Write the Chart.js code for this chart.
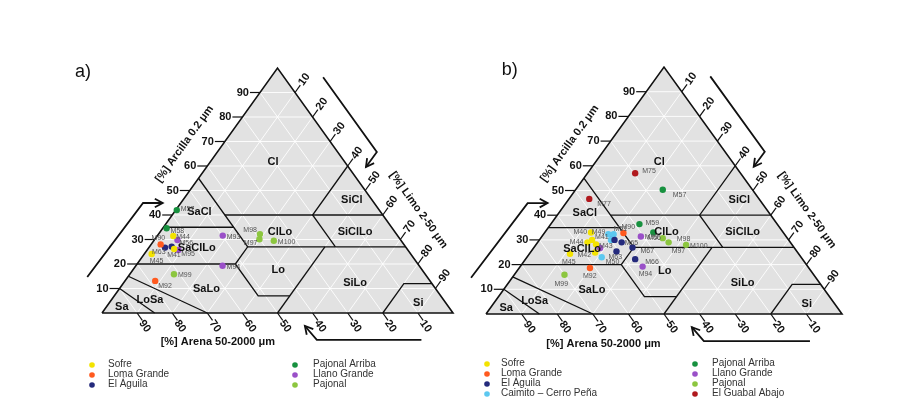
<!DOCTYPE html>
<html>
<head>
<meta charset="utf-8">
<script src="https://cdn.jsdelivr.net/npm/chart.js@4.4.1/dist/chart.umd.min.js"></script>
<style>
  html, body { margin: 0; padding: 0; background: #fff; }
  #wrap { position: relative; width: 902px; height: 402px; }
  canvas { position: absolute; left: 0; top: 0; }
</style>
</head>
<body>
<div id="wrap">
  <canvas id="chartA" width="902" height="402"></canvas>
  <canvas id="chartB" width="902" height="402"></canvas>
</div>
<script>
// ---- data ----
const tickValues = [10, 20, 30, 40, 50, 60, 70, 80, 90];

// USDA texture classes (label position as clay %, sand %)
const classNames = ["Cl", "SiCl", "SaCl", "ClLo", "SiClLo", "SaClLo", "Lo", "SiLo", "SaLo", "LoSa", "Sa", "Si"];
const classClay  = [61.6, 46.1, 41.1, 33.2, 33.2, 26.4, 17.6, 12.4, 9.7, 5.3, 2.3, 4.0];
const classSand  = [20.5, 5.8, 51.7, 32.7, 11.3, 59.8, 41.0, 21.7, 65.4, 83.7, 93.2, 7.9];

// class boundaries, each one a polyline in clay % / sand %
const boundaryClay = [[10, 0], [15, 0], [20, 20, 7, 7], [0, 27], [35, 35], [55, 27, 20], [27, 27], [40, 40], [60, 40, 27], [12, 12, 0]];
const boundarySand = [[90, 85], [85, 70], [80, 52, 52, 43], [50, 23], [65, 45], [45, 45, 52], [45, 0], [45, 0], [0, 20, 20], [0, 8, 20]];

const groupNames  = ["Sofre", "Loma Grande", "El Águila", "Caimito – Cerro Peña", "Pajonal Arriba", "Llano Grande", "Pajonal", "El Guabal Abajo"];
const groupColors = ["#f3e300", "#ff5a1f", "#242a7c", "#5cc8f0", "#17913f", "#9a50c8", "#8cc63f", "#b0191e"];

// panel a)
const aGroup = ["Sofre", "Sofre", "Sofre", "Loma Grande", "Loma Grande", "El Águila", "El Águila", "Pajonal Arriba", "Pajonal Arriba",
                "Llano Grande", "Llano Grande", "Llano Grande", "Llano Grande", "Pajonal", "Pajonal", "Pajonal", "Pajonal"];
const aLabel = ["M44", "M41", "M45", "M90", "M92", "M63", "", "M57", "M58", "M56", "M95", "M93", "M94", "M98", "M97", "M100", "M99"];
const aClay  = [31.4, 26.1, 24.1, 28.0, 13.1, 26.7, 27.1, 42.0, 34.6, 29.8, 25.7, 31.6, 19.3, 32.2, 30.1, 29.5, 15.8];
const aSand  = [64.0, 66.4, 73.8, 69.3, 78.3, 68.7, 66.6, 57.7, 64.3, 63.6, 65.4, 49.8, 56.0, 38.9, 40.1, 36.3, 71.6];

// panel b)
const bGroup = ["Sofre", "Sofre", "Sofre", "Sofre", "Sofre", "Sofre",
                "Caimito – Cerro Peña", "Caimito – Cerro Peña", "Caimito – Cerro Peña", "Caimito – Cerro Peña",
                "Loma Grande", "Loma Grande",
                "El Águila", "El Águila", "El Águila", "El Águila", "El Águila",
                "Llano Grande", "Llano Grande", "Llano Grande", "Llano Grande",
                "Pajonal Arriba", "Pajonal Arriba", "Pajonal Arriba",
                "Pajonal", "Pajonal", "Pajonal", "Pajonal",
                "El Guabal Abajo", "El Guabal Abajo"];
const bLabel = ["M40", "M41", "M44", "M43", "M45", "M42", "M49", "M51", "", "M50", "M90", "M92", "M65", "M63", "M67", "M66", "",
                "", "", "M93", "M94", "M57", "M59", "M56", "M98", "M97", "M100", "M99", "M75", "M77"];
const bClay  = [33.0, 30.0, 29.0, 28.2, 24.4, 24.9, 32.3, 32.3, 30.0, 23.0, 32.8, 18.6, 29.0, 25.3, 26.9, 22.2, 30.0,
                26.7, 30.7, 31.4, 19.2, 50.3, 36.4, 33.0, 30.7, 29.0, 28.0, 15.9, 57.0, 46.6];
const bSand  = [54.0, 55.2, 57.0, 55.0, 64.2, 56.9, 49.5, 48.0, 49.9, 56.0, 45.0, 61.5, 47.4, 50.7, 45.4, 47.0, 48.9,
                54.6, 49.0, 40.8, 46.4, 25.2, 38.7, 36.5, 35.0, 34.2, 29.8, 70.0, 29.6, 47.7];

// ---- helpers ----
const FONT = 'Arial, "Liberation Sans", sans-serif';

// clay/sand -> plotting coords (silt = rest)
function P(clay, sand) {
  return { x: 100 - sand - clay / 2, y: clay };
}

function lineSet(pts, color, width, order) {
  return { data: pts, borderColor: color, borderWidth: width, pointRadius: 0, fill: false,
           tension: 0, clip: false, order: order };
}

function buildDatasets(groups, labels, clay, sand, legendGroups) {
  const sets = [];
  // grey triangle
  sets.push({ data: [P(0, 100), P(100, 0), P(0, 0)], borderWidth: 0, pointRadius: 0, fill: 'origin',
              backgroundColor: '#e2e2e2', clip: false, order: 10 });
  // white grid
  tickValues.forEach(k => {
    sets.push(lineSet([P(k, 100 - k), P(k, 0)], '#ffffff', 0.9, 9));
    sets.push(lineSet([P(0, k), P(100 - k, k)], '#ffffff', 0.9, 9));
    sets.push(lineSet([P(0, 100 - k), P(100 - k, 0)], '#ffffff', 0.9, 9));
  });
  // class boundaries
  boundaryClay.forEach((cl, i) => {
    sets.push(lineSet(cl.map((c, j) => P(c, boundarySand[i][j])), '#111', 1.3, 8));
  });
  // outline
  sets.push(lineSet([P(0, 100), P(100, 0), P(0, 0), P(0, 100)], '#111', 1.6, 7));
  // samples
  legendGroups.forEach(g => {
    const idx = groups.map((x, i) => x === g ? i : -1).filter(i => i >= 0);
    sets.push({
      label: g,
      data: idx.map(i => Object.assign(P(clay[i], sand[i]), { name: labels[i] })),
      showLine: false, pointRadius: 3.2, pointBorderWidth: 0,
      pointBackgroundColor: groupColors[groupNames.indexOf(g)],
      clip: false, order: 1
    });
  });
  return sets;
}

function rotText(ctx, str, x, y, ang, align) {
  ctx.save();
  ctx.translate(x, y);
  ctx.rotate(ang);
  ctx.textAlign = align || 'center';
  ctx.textBaseline = 'middle';
  ctx.fillText(str, 0, 0);
  ctx.restore();
}

function polyline(ctx, pts) {
  ctx.beginPath();
  pts.forEach((p, i) => i ? ctx.lineTo(p[0], p[1]) : ctx.moveTo(p[0], p[1]));
  ctx.stroke();
}

function arrow(ctx, pts) {
  polyline(ctx, pts);
  const a = pts[pts.length - 2], b = pts[pts.length - 1];
  const ang = Math.atan2(b[1] - a[1], b[0] - a[0]);
  const h = 9;
  polyline(ctx, [
    [b[0] - h * Math.cos(ang - 0.5), b[1] - h * Math.sin(ang - 0.5)],
    b,
    [b[0] - h * Math.cos(ang + 0.5), b[1] - h * Math.sin(ang + 0.5)]
  ]);
}

const ternaryDecor = {
  id: 'ternaryDecor',
  afterDatasetsDraw(chart, args, opts) {
    const ctx = chart.ctx, xs = chart.scales.x, ys = chart.scales.y;
    const px = d => [xs.getPixelForValue(d.x), ys.getPixelForValue(d.y)];
    const unit = (a, b) => { const dx = b[0] - a[0], dy = b[1] - a[1], l = Math.hypot(dx, dy); return [dx / l, dy / l]; };
    const L = px(P(0, 100)), R = px(P(0, 0)), T = px(P(100, 0));
    const u = unit(L, T), v = unit(T, R);
    const angU = Math.atan2(u[1], u[0]), angV = Math.atan2(v[1], v[0]);

    ctx.save();
    ctx.strokeStyle = '#111';
    ctx.fillStyle = '#111';
    ctx.lineWidth = 1.2;
    ctx.font = 'bold 11px ' + FONT;

    tickValues.forEach(k => {
      // clay, left side
      let p = px(P(k, 100 - k));
      polyline(ctx, [p, [p[0] - 10, p[1]]]);
      rotText(ctx, String(k), p[0] - 11, p[1], 0, 'right');
      // silt, right side
      p = px(P(100 - k, 0));
      polyline(ctx, [p, [p[0] + 9 * u[0], p[1] + 9 * u[1]]]);
      rotText(ctx, String(k), p[0] + 16 * u[0], p[1] + 16 * u[1], angU);
      // sand, bottom
      p = px(P(0, k));
      polyline(ctx, [p, [p[0] + 9 * v[0], p[1] + 9 * v[1]]]);
      rotText(ctx, String(k), p[0] + 15 * v[0] - 1, p[1] + 15 * v[1] + 1, angV);
    });

    // axis titles
    let p = px({ x: 23.5, y: 69 });
    rotText(ctx, '[%] Arcilla 0.2 μm', p[0], p[1], angU);
    p = px({ x: 90.2, y: 42 });
    rotText(ctx, '[%] Limo 2-50 μm', p[0], p[1], angV);
    p = px({ x: 33, y: -12 });
    rotText(ctx, '[%] Arena 50-2000 μm', p[0], p[1], 0);

    // class names
    classNames.forEach((n, i) => {
      const q = px(P(classClay[i], classSand[i]));
      rotText(ctx, n, q[0], q[1], 0);
    });

    // direction arrows
    ctx.lineWidth = 1.8;
    arrow(ctx, [px({ x: -4.2, y: 14.7 }), px({ x: 11.7, y: 44.9 }), px({ x: 17.3, y: 44.9 })]);
    arrow(ctx, [px({ x: 63.0, y: 96.2 }), px({ x: 78.3, y: 65.7 }), px({ x: 75.2, y: 59.6 })]);
    arrow(ctx, [px({ x: 91.0, y: -11.0 }), px({ x: 61.2, y: -11.0 }), px({ x: 57.8, y: -5.3 })]);

    // sample labels
    ctx.font = '7px ' + FONT;
    ctx.fillStyle = '#555';
    chart.data.datasets.forEach((ds, di) => {
      if (!ds.label) return;
      const meta = chart.getDatasetMeta(di);
      ds.data.forEach((d, j) => {
        if (!d.name) return;
        const el = meta.data[j];
        const o = opts.labelPos[d.name] || [4, 1, 'left'];
        rotText(ctx, d.name, el.x + o[0], el.y + o[1], 0, o[2]);
      });
    });

    // panel letter
    ctx.fillStyle = '#111';
    ctx.font = '18px ' + FONT;
    p = px(opts.letterAt);
    ctx.textAlign = 'left';
    ctx.textBaseline = 'alphabetic';
    ctx.fillText(opts.letter, p[0], p[1]);

    // legend
    ctx.font = '10px ' + FONT;
    const lg = opts.legend;
    lg.items.forEach((g, i) => {
      const col = i < lg.perCol ? 0 : 1;
      const row = i % lg.perCol;
      const y = lg.top + row * 10;
      ctx.fillStyle = groupColors[groupNames.indexOf(g)];
      ctx.beginPath();
      ctx.arc(lg.cols[col][0], y + 1, 2.8, 0, Math.PI * 2);
      ctx.fill();
      ctx.fillStyle = '#333';
      rotText(ctx, g, lg.cols[col][1], y, 0, 'left');
    });
    ctx.restore();
  }
};

function makeChart(id, groups, labels, clay, sand, legendGroups, pad, extra) {
  return new Chart(document.getElementById(id), {
    type: 'line',
    data: { datasets: buildDatasets(groups, labels, clay, sand, legendGroups) },
    options: {
      responsive: false,
      animation: false,
      events: [],
      layout: { padding: pad },
      scales: {
        x: { type: 'linear', min: 0, max: 100, display: false },
        y: { type: 'linear', min: 0, max: 100, display: false }
      },
      plugins: { legend: { display: false }, tooltip: { enabled: false }, ternaryDecor: extra }
    },
    plugins: [ternaryDecor]
  });
}

makeChart('chartA', aGroup, aLabel, aClay, aSand,
  ["Sofre", "Loma Grande", "El Águila", "Pajonal Arriba", "Llano Grande", "Pajonal"],
  { left: 102, right: 449, top: 68, bottom: 89 },
  {
    letter: 'a)', letterAt: { x: -7.7, y: 96.3 },
    legend: { items: ["Sofre", "Loma Grande", "El Águila", "Pajonal Arriba", "Llano Grande", "Pajonal"],
              perCol: 3, top: 364, cols: [[92, 108], [295, 313]] },
    labelPos: {
      M90: [-9, -6, 'left'], M63: [-13, 4, 'left'], M45: [-2, 7, 'left'], M41: [-7, 6, 'left'],
      M95: [3, 4, 'left'], M44: [3, 1, 'left'], M56: [2, 3, 'left'], M58: [4, 3, 'left'],
      M98: [-3, -4, 'right'], M97: [-2, 4, 'right'], M92: [3, 5, 'left'], M57: [4, -1, 'left']
    }
  });

makeChart('chartB', bGroup, bLabel, bClay, bSand,
  ["Sofre", "Loma Grande", "El Águila", "Caimito – Cerro Peña", "Pajonal Arriba", "Llano Grande", "Pajonal", "El Guabal Abajo"],
  { left: 486, right: 60, top: 67, bottom: 88 },
  {
    letter: 'b)', letterAt: { x: 4.4, y: 96.8 },
    legend: { items: ["Sofre", "Loma Grande", "El Águila", "Caimito – Cerro Peña", "Pajonal Arriba", "Llano Grande", "Pajonal", "El Guabal Abajo"],
              perCol: 4, top: 363, cols: [[487, 501], [695, 712]] },
    labelPos: {
      M40: [-4, 0, 'right'], M44: [-4, 0, 'right'], M41: [3, -3, 'left'], M43: [3, 2, 'left'],
      M45: [-8, 8, 'left'], M42: [-4, 3, 'right'], M49: [-3, -2, 'right'], M51: [0, -5, 'left'],
      M50: [4, 5, 'left'], M90: [-2, -6, 'left'], M92: [-7, 8, 'left'], M65: [3, 1, 'left'],
      M63: [-8, 6, 'left'], M67: [8, 4, 'left'], M66: [10, 3, 'left'], M93: [4, 1, 'left'],
      M94: [-4, 7, 'left'], M57: [10, 5, 'left'], M59: [6, -1, 'left'], M56: [-6, 6, 'left'],
      M98: [14, 1, 'left'], M97: [3, 9, 'left'], M100: [4, 1, 'left'], M99: [-10, 9, 'left'],
      M75: [7, -2, 'left'], M77: [8, 5, 'left']
    }
  });
</script>
</body>
</html>
